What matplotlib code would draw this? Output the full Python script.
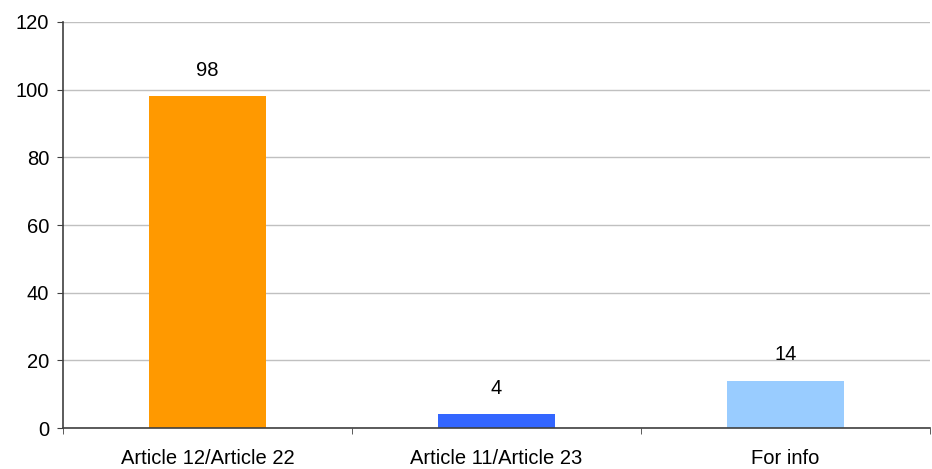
import matplotlib
matplotlib.use('Agg')
import matplotlib.pyplot as plt
import numpy as np

categories = ['Article 12/Article 22', 'Article 11/Article 23', 'For info']
values = [98, 4, 14]
colors = ['#FF9900', '#3366FF', '#99CCFF']
yticks = [0, 20, 40, 60, 80, 100, 120]

plt.rcParams['font.family'] = ['Liberation Sans', 'DejaVu Sans']
fs = 14.5

fig = plt.figure(figsize=(9.32, 4.69), dpi=100)
ax = fig.add_axes([0.0676, 0.0874, 0.9303, 0.8657])

x = np.arange(len(categories))
bars = ax.bar(x, values, width=0.405, color=colors, zorder=3)
for b, v in zip(bars, values):
  ax.annotate(str(v), (b.get_x() + b.get_width() / 2, v), xytext=(0, 12),
              textcoords='offset points', ha='center', va='bottom', fontsize=fs)

ax.set_xlim(-0.5, len(categories) - 0.5)
ax.set_ylim(0, 120)
ax.set_yticks(yticks)
ax.yaxis.grid(True, color='#C0C0C0', lw=1, zorder=0)
ax.set_xticks(x)
ax.set_xticklabels(categories, fontsize=fs)
ax.set_xticks(np.arange(len(categories) + 1) - 0.5, minor=True)
ax.tick_params(axis='x', which='major', length=0, pad=15)
ax.tick_params(axis='x', which='minor', length=4, color='#404040')
ax.tick_params(axis='y', length=4, color='#404040', labelsize=fs, pad=6)
for s in ['top', 'right']:
  ax.spines[s].set_visible(False)
for s in ['left', 'bottom']:
  ax.spines[s].set_color('#404040')
  ax.spines[s].set_linewidth(1.2)
  ax.spines[s].set_zorder(4)

fig.savefig('out.png', dpi=100)
